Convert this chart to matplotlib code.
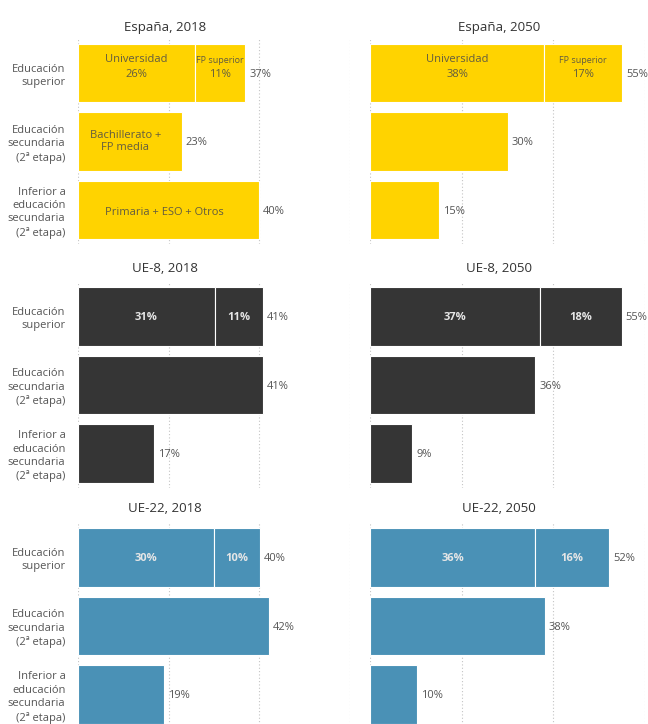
import matplotlib
matplotlib.use('Agg')
import matplotlib.pyplot as plt

plt.rcParams['font.family'] = ['Open Sans', 'DejaVu Sans']

# Data (percent of population by education level)
categories = ['Educación\nsuperior',
              'Educación\nsecundaria\n(2ª etapa)',
              'Inferior a\neducación\nsecundaria\n(2ª etapa)']
titles = ['España, 2018', 'España, 2050', 'UE-8, 2018', 'UE-8, 2050', 'UE-22, 2018', 'UE-22, 2050']

# bar lengths
universidad = [25.9, 38.0, 30.3, 37.1, 30.1, 36.1]
fp_superior = [11.0, 17.0, 10.6, 17.8, 10.1, 16.0]
secundaria = [22.9, 30.0, 40.9, 36.1, 42.1, 38.1]
inferior = [40.0, 15.1, 16.8, 9.2, 19.0, 10.2]

# printed labels
universidad_lbl = ['26%', '38%', '31%', '37%', '30%', '36%']
fp_superior_lbl = ['11%', '17%', '11%', '18%', '10%', '16%']
superior_lbl = ['37%', '55%', '41%', '55%', '40%', '52%']
secundaria_lbl = ['23%', '30%', '41%', '36%', '42%', '38%']
inferior_lbl = ['40%', '15%', '17%', '9%', '19%', '10%']

colors = ['#FFD300', '#FFD300', '#353535', '#353535', '#4A91B6', '#4A91B6']

W, H = 648, 724
fig = plt.figure(figsize=(W / 100, H / 100), dpi=100)

row_tops = [38.75, 282.25, 523.25]
ax_h = 205.5
title_y = [27, 268, 508]
col_left = [78, 370]
col_w = [271.5, 275]
title_x = [165, 499]

bar_h = 0.85
txt_col = '#555555'
in_col = '#625c40'

for i in range(6):
    r, c = divmod(i, 2)
    ax = fig.add_axes([col_left[c] / W, 1 - (row_tops[r] + ax_h) / H, col_w[c] / W, ax_h / H])
    col = colors[i]

    ax.barh(0, universidad[i], height=bar_h, color=col, edgecolor='white', linewidth=0.8)
    ax.barh(0, fp_superior[i], left=universidad[i], height=bar_h, color=col, edgecolor='white', linewidth=0.8)
    ax.barh(1, secundaria[i], height=bar_h, color=col, edgecolor='white', linewidth=0.8)
    ax.barh(2, inferior[i], height=bar_h, color=col, edgecolor='white', linewidth=0.8)

    ax.set_xlim(0, 60)
    ax.set_ylim(2.5, -0.5)
    ax.set_xticks([0, 20, 40, 60])
    ax.tick_params(axis='x', length=0, labelbottom=False)
    ax.xaxis.grid(True, linestyle=(0, (1, 2)), color='#c4c4c4', linewidth=0.8)
    ax.set_axisbelow(True)
    for s in ax.spines.values():
        s.set_visible(False)

    if c == 0:
        ax.set_yticks(range(3), categories)
        ax.tick_params(axis='y', length=0, pad=9, labelsize=8, labelcolor=txt_col)
        for t in ax.get_yticklabels():
            t.set_linespacing(1.3)
    else:
        ax.set_yticks([])

    # in-bar labels for the two higher-education segments
    x_uni = universidad[i] / 2
    x_fp = universidad[i] + fp_superior[i] / 2
    if r == 0:
        ax.text(x_uni, -0.2, 'Universidad', ha='center', va='center', fontsize=8, color=in_col)
        ax.text(x_uni, 0.02, universidad_lbl[i], ha='center', va='center', fontsize=8, color=in_col)
        ax.text(x_fp, -0.18, 'FP superior', ha='center', va='center', fontsize=6.5, color=in_col)
        ax.text(x_fp, 0.02, fp_superior_lbl[i], ha='center', va='center', fontsize=8, color=in_col)
    else:
        ax.text(x_uni, 0.01, universidad_lbl[i], ha='center', va='center', fontsize=8,
                color='#e6e6e6', fontweight='bold')
        ax.text(x_fp, 0.01, fp_superior_lbl[i], ha='center', va='center', fontsize=8,
                color='#e6e6e6', fontweight='bold')

    if i == 0:
        ax.text(secundaria[i] / 2 - 1, 1.0, 'Bachillerato +\nFP media', ha='center', va='center',
                fontsize=8, color=in_col, linespacing=1.2)
        ax.text(inferior[i] / 2 - 1, 2.03, 'Primaria + ESO + Otros', ha='center', va='center',
                fontsize=8, color=in_col)

    # totals to the right of each bar
    totals = [universidad[i] + fp_superior[i], secundaria[i], inferior[i]]
    lbls = [superior_lbl[i], secundaria_lbl[i], inferior_lbl[i]]
    for y, (v, l) in enumerate(zip(totals, lbls)):
        ax.annotate(l, xy=(v, y + 0.02), xytext=(3, 0), textcoords='offset points',
                    ha='left', va='center', fontsize=8, color=txt_col, annotation_clip=False)

    fig.text(title_x[c] / W, 1 - title_y[r] / H, titles[i], ha='center', va='center',
             fontsize=9.5, color='#333333')

fig.savefig('out.png', dpi=100)
